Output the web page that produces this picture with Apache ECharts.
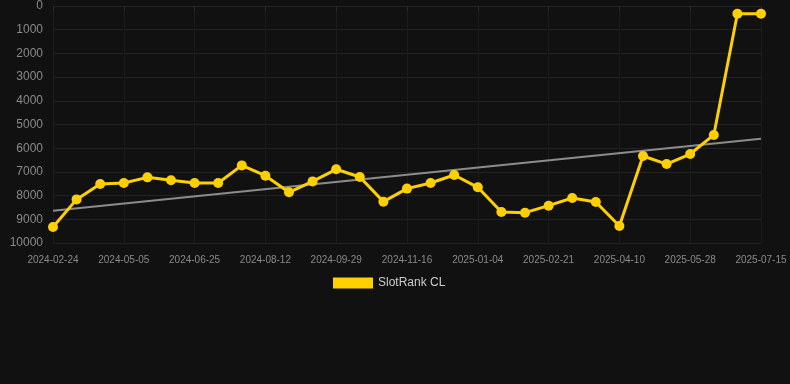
<!DOCTYPE html>
<html><head><meta charset="utf-8">
<script src="https://cdn.jsdelivr.net/npm/echarts@6/dist/echarts.min.js"></script>
<style>html,body{margin:0;padding:0;background:#111111;}#c{width:790px;height:384px;}</style>
</head><body><div id="c"></div>
<script>
const categories = ['2024-02-24','2024-03-19','2024-04-12','2024-05-05','2024-05-22','2024-06-08','2024-06-25','2024-07-11','2024-07-27','2024-08-12','2024-08-28','2024-09-13','2024-09-29','2024-10-15','2024-10-31','2024-11-16','2024-12-02','2024-12-18','2025-01-04','2025-01-20','2025-02-05','2025-02-21','2025-03-09','2025-03-25','2025-04-10','2025-04-26','2025-05-12','2025-05-28','2025-06-13','2025-06-29','2025-07-15'];
const rankValues = [9325,8160,7510,7470,7230,7355,7470,7470,6725,7160,7860,7400,6890,7215,8255,7705,7470,7130,7650,8690,8720,8425,8100,8270,9280,6330,6670,6245,5440,325,325];
const trendEnds = [8635,5600];
const yTicks = [0,1000,2000,3000,4000,5000,6000,7000,8000,9000,10000];

const trendData = categories.map((c,i)=> i===0 ? trendEnds[0] : (i===categories.length-1 ? trendEnds[1] : null));

const chart = echarts.init(document.getElementById('c'), null, {renderer:'canvas'});
chart.setOption({
  backgroundColor:'#111111',
  animation:false,
  grid:{left:53,right:29,top:6,bottom:141,containLabel:false},
  legend:{
    data:['SlotRank CL'],
    top:272,left:328,
    itemWidth:40,itemHeight:11,itemGap:10,
    icon:'rect',
    textStyle:{color:'#cccccc',fontSize:12,fontFamily:'Liberation Sans, Arial, sans-serif'}
  },
  xAxis:{
    type:'category',data:categories,boundaryGap:false,
    axisLine:{show:false},
    axisTick:{show:true,alignWithLabel:true,interval:2,lineStyle:{color:'#2a2a2a'}},
    axisLabel:{interval:2,color:'#8a8a8a',fontSize:10,margin:12,fontFamily:'Liberation Sans, Arial, sans-serif'},
    splitLine:{show:true,interval:2,lineStyle:{color:'#1c1c1c',width:1}}
  },
  yAxis:{
    type:'value',inverse:true,min:yTicks[0],max:yTicks[yTicks.length-1],interval:1000,
    axisLine:{show:false},axisTick:{show:false},
    axisLabel:{color:'#8a8a8a',fontSize:12,margin:10,fontFamily:'Liberation Sans, Arial, sans-serif',formatter:v=>String(v)},
    splitLine:{show:true,lineStyle:{color:'#222222',width:1}}
  },
  series:[
    {
      name:'Trend',type:'line',data:trendData,connectNulls:true,
      symbol:'none',silent:true,
      lineStyle:{color:'#8c8c8c',width:2},
      itemStyle:{color:'#8c8c8c'},
      z:1
    },
    {
      name:'SlotRank CL',type:'line',data:rankValues,
      symbol:'circle',symbolSize:10,showSymbol:true,
      lineStyle:{color:'#FFD000',width:3},
      itemStyle:{color:'#FFD000'},
      z:2
    }
  ]
});
</script></body></html>
